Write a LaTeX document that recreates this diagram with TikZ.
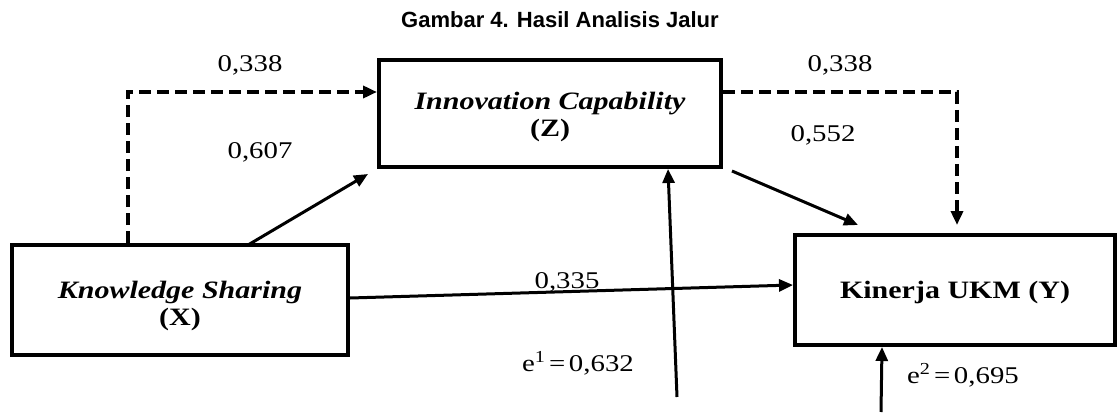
\documentclass[tikz,border=0pt]{standalone}
\usepackage{fontspec}
\setmainfont{Liberation Serif}[FakeStretch=1.2]
\newfontfamily\titlefont{Liberation Sans}
\usetikzlibrary{arrows.meta}

\begin{document}
\begin{tikzpicture}[x=1pt,y=-1pt,
  box/.style={draw,line width=4pt,inner sep=0pt,align=center,font=\fontsize{25}{27}\selectfont\bfseries},
  arr/.style={line width=3pt,-{Triangle[length=14pt,width=12pt]}},
  darr/.style={arr,line width=4pt,dash pattern=on 12pt off 6pt},
  lbl/.style={font=\fontsize{24}{27}\selectfont,inner sep=0pt}]
\useasboundingbox (0,0) rectangle (1119,417);
\node[font=\titlefont\fontsize{22}{25}\selectfont\bfseries] (title) at (560,20) {Gambar 4. Hasil Analisis Jalur};

% variables
\node[box,minimum width=342pt,minimum height=107pt] (Z) at (550,113.5) {\rule{0pt}{25pt}\textit{Innovation Capability}\\(Z)};
\node[box,minimum width=336pt,minimum height=110pt] (X) at (180,300) {\rule{0pt}{30pt}\textit{Knowledge Sharing}\\(X)};
\node[box,minimum width=320pt,minimum height=110pt] (Y) at (955,290) {\rule{0pt}{23pt}Kinerja UKM (Y)};

% dashed paths
\coordinate (c1) at (128,92);\coordinate (c2) at (957,92);
\draw[darr] (X.north -| c1) -- (c1) -- (Z.west |- c1);
\draw[darr,shorten >=8pt] (Z.east |- c2) -- (c2) -- (Y.north -| c2);

% direct paths
\coordinate (a1) at (248,0);\coordinate (a2) at (732,0);
\draw[arr] ([yshift=-2pt]X.north -| a1) -- ([shift={(-9,5)}]Z.south west);
\draw[arr] ([yshift=-2pt]Z.south -| a2) -- ([shift={(65,-8)}]Y.north west);
\draw[arr] ([yshift=2pt]X.east) -- ([yshift=5pt]Y.west);

% errors
\coordinate (e1) at (677,397);\coordinate (e1t) at (668,0);
\coordinate (e2) at (881,412);\coordinate (e2t) at (882,0);
\draw[arr] (e1) -- (Z.south -| e1t);
\draw[arr] (e2) -- (Y.south -| e2t);

\node[lbl] (l1) at (250,65) {0,338};\node[lbl] (l2) at (260,152) {0,607};
\node[lbl] (l3) at (840,65) {0,338};\node[lbl] (l4) at (823,135) {0,552};
\node[lbl] (l5) at (567,282) {0,335};
\node[lbl] (l6) at (578,363) {e\textsuperscript{1}\hspace{0.15em}=\hspace{0.15em}0,632};
\node[lbl] (l7) at (963,375) {e\textsuperscript{2}\hspace{0.15em}=\hspace{0.15em}0,695};
\end{tikzpicture}
\end{document}
